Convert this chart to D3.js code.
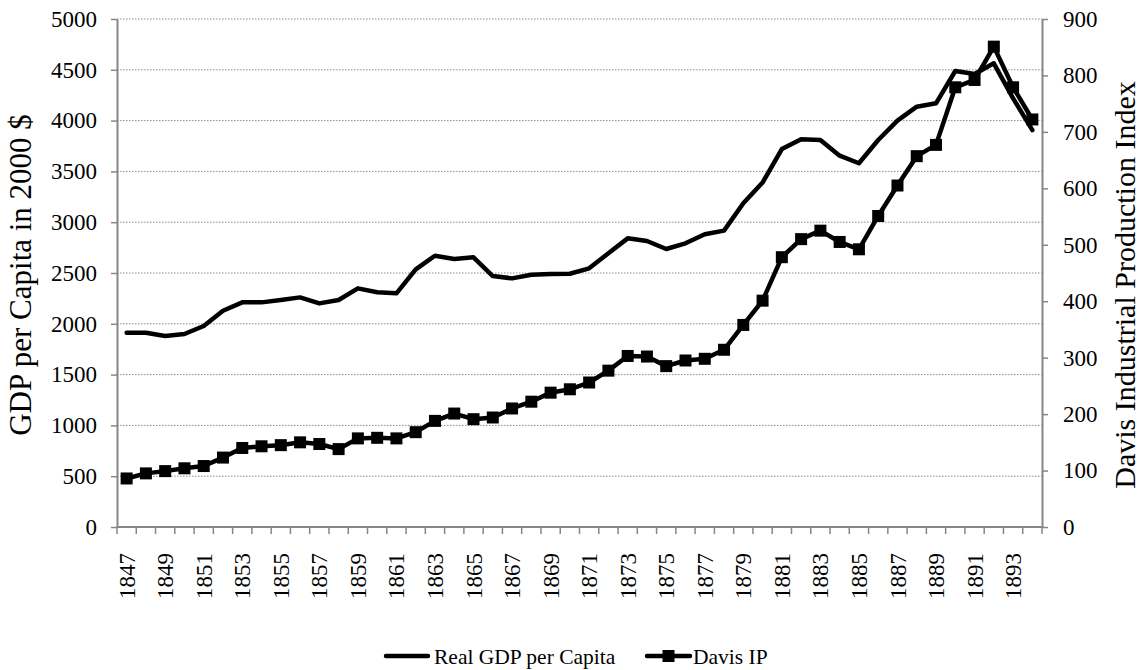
<!DOCTYPE html>
<html>
<head>
<meta charset="utf-8">
<script src="https://cdn.jsdelivr.net/npm/d3@7.9.0/dist/d3.min.js"></script>
<style>
  html, body { margin: 0; padding: 0; background: #fff; }
  svg { display: block; font-family: "Liberation Serif", "Times New Roman", serif; }
</style>
</head>
<body>
<svg id="chart" width="1145" height="670"></svg>
<script>
// --- data ---
const years = [1847, 1848, 1849, 1850, 1851, 1852, 1853, 1854, 1855, 1856,
  1857, 1858, 1859, 1860, 1861, 1862, 1863, 1864, 1865, 1866,
  1867, 1868, 1869, 1870, 1871, 1872, 1873, 1874, 1875, 1876,
  1877, 1878, 1879, 1880, 1881, 1882, 1883, 1884, 1885, 1886,
  1887, 1888, 1889, 1890, 1891, 1892, 1893, 1894];

const gdpPerCapita = [1912, 1912, 1880, 1900, 1978, 2129, 2211, 2211, 2234, 2260,
  2201, 2234, 2349, 2310, 2300, 2536, 2670, 2638, 2654, 2470,
  2447, 2483, 2490, 2493, 2546, 2694, 2841, 2815, 2736, 2792,
  2881, 2917, 3186, 3390, 3720, 3816, 3809, 3655, 3580, 3809,
  4000, 4137, 4170, 4488, 4459, 4564, 4219, 3907];

const davisIP = [86, 95, 99, 104, 108, 123, 140, 143, 145, 150,
  147, 138, 157, 158, 157, 168, 188, 201, 191, 194,
  210, 222, 238, 244, 256, 277, 303, 302, 285, 295,
  298, 314, 358, 401, 478, 510, 525, 505, 492, 551,
  605, 657, 677, 779, 792, 851, 779, 722];

const leftTicks = [0, 500, 1000, 1500, 2000, 2500, 3000, 3500, 4000, 4500, 5000];
const rightTicks = [0, 100, 200, 300, 400, 500, 600, 700, 800, 900];
const labelYears = years.filter((y, i) => i % 2 === 0);

// --- layout ---
const plot = { left: 117, right: 1042, top: 19, bottom: 527 };
const axisColor = "#868686";
const serif = "'Liberation Serif', 'Times New Roman', serif";

const svg = d3.select("#chart");

const x = d3.scaleBand().domain(years).range([plot.left, plot.right]).padding(0);
const yL = d3.scaleLinear().domain([0, 5000]).range([plot.bottom, plot.top]);
const yR = d3.scaleLinear().domain([0, 900]).range([plot.bottom, plot.top]);
const cx = (yr) => x(yr) + x.bandwidth() / 2;

// --- gridlines ---
svg.append("g")
  .selectAll("line")
  .data(leftTicks.filter((d) => d > 0))
  .join("line")
  .attr("x1", plot.left)
  .attr("x2", plot.right)
  .attr("y1", (d) => yL(d))
  .attr("y2", (d) => yL(d))
  .attr("stroke", "#8c8c8c")
  .attr("stroke-width", 1)
  .attr("stroke-dasharray", "1.5,1.5");

// --- axes ---
const styleAxis = (g) => {
  g.attr("font-family", null).attr("font-size", null);
  g.select(".domain").attr("stroke", axisColor).attr("stroke-width", 2);
  g.selectAll(".tick line").attr("stroke", axisColor).attr("stroke-width", 1.5);
  g.selectAll(".tick text").attr("fill", "#000")
    .style("font-size", "23px")
    .style("font-family", serif);
};

svg.append("g")
  .attr("transform", `translate(${plot.left},0)`)
  .call(d3.axisLeft(yL).tickValues(leftTicks).tickFormat(d3.format("d"))
    .tickSize(6).tickSizeOuter(0).tickPadding(14))
  .call(styleAxis);

svg.append("g")
  .attr("transform", `translate(${plot.right},0)`)
  .call(d3.axisRight(yR).tickValues(rightTicks).tickFormat(d3.format("d"))
    .tickSize(6).tickSizeOuter(0).tickPadding(15))
  .call(styleAxis);

// x axis: line + ticks between categories
const xAxis = svg.append("g");
xAxis.append("line")
  .attr("x1", plot.left).attr("x2", plot.right)
  .attr("y1", plot.bottom).attr("y2", plot.bottom)
  .attr("stroke", axisColor).attr("stroke-width", 2);

xAxis.selectAll(".xtick")
  .data(years.concat([null]))
  .join("line")
  .attr("class", "xtick")
  .attr("x1", (d) => d === null ? plot.right : x(d))
  .attr("x2", (d) => d === null ? plot.right : x(d))
  .attr("y1", plot.bottom)
  .attr("y2", plot.bottom + 7)
  .attr("stroke", axisColor)
  .attr("stroke-width", 1.5);

xAxis.selectAll(".xlabel")
  .data(labelYears)
  .join("text")
  .attr("class", "xlabel")
  .attr("transform", (d) => `translate(${cx(d)},${plot.bottom + 26}) rotate(-90)`)
  .attr("text-anchor", "end")
  .attr("dy", "0.35em")
  .style("font-size", "23px")
  .text((d) => d);

// --- series ---
const gdpLine = d3.line()
  .x((d, i) => cx(years[i]))
  .y((d) => yL(d));

const ipLine = d3.line()
  .x((d, i) => cx(years[i]))
  .y((d) => yR(d));

svg.append("path")
  .datum(gdpPerCapita)
  .attr("d", gdpLine)
  .attr("fill", "none")
  .attr("stroke", "#000")
  .attr("stroke-width", 4.5)
  .attr("stroke-linejoin", "round")
  .attr("stroke-linecap", "round");

svg.append("path")
  .datum(davisIP)
  .attr("d", ipLine)
  .attr("fill", "none")
  .attr("stroke", "#000")
  .attr("stroke-width", 4.5)
  .attr("stroke-linejoin", "round")
  .attr("stroke-linecap", "round");

const sq = 12;
svg.append("g")
  .selectAll("rect")
  .data(davisIP)
  .join("rect")
  .attr("x", (d, i) => cx(years[i]) - sq / 2)
  .attr("y", (d) => yR(d) - sq / 2)
  .attr("width", sq)
  .attr("height", sq)
  .attr("fill", "#000");

// --- axis titles ---
svg.append("text")
  .attr("transform", "translate(31,275) rotate(-90)")
  .attr("text-anchor", "middle")
  .style("font-size", "31px")
  .text("GDP per Capita in 2000 $");

svg.append("text")
  .attr("transform", "translate(1135,285) rotate(-90)")
  .attr("text-anchor", "middle")
  .style("font-size", "30px")
  .text("Davis Industrial Production Index");

// --- legend ---
const legY = 656;
const legend = svg.append("g");

legend.append("line")
  .attr("x1", 386).attr("x2", 428)
  .attr("y1", legY).attr("y2", legY)
  .attr("stroke", "#000").attr("stroke-width", 4.5).attr("stroke-linecap", "round");
legend.append("text")
  .attr("x", 434).attr("y", legY).attr("dy", "0.35em")
  .style("font-size", "21.5px")
  .text("Real GDP per Capita");

legend.append("line")
  .attr("x1", 647).attr("x2", 690)
  .attr("y1", legY).attr("y2", legY)
  .attr("stroke", "#000").attr("stroke-width", 4.5).attr("stroke-linecap", "round");
legend.append("rect")
  .attr("x", 668.5 - sq / 2).attr("y", legY - sq / 2)
  .attr("width", sq).attr("height", sq)
  .attr("fill", "#000");
legend.append("text")
  .attr("x", 693).attr("y", legY).attr("dy", "0.35em")
  .style("font-size", "21.5px")
  .text("Davis IP");
</script>
</body>
</html>
